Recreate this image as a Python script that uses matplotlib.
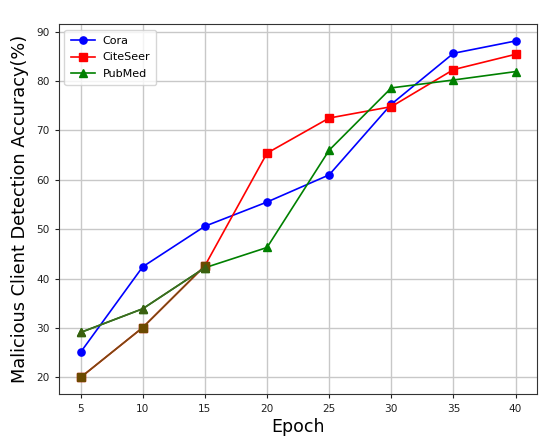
import matplotlib.pyplot as plt

epochs = [5, 10, 15, 20, 25, 30, 35, 40]
cora = [25.1, 42.4, 50.6, 55.5, 61.0, 75.3, 85.6, 88.1]
citeseer = [20.0, 30.1, 42.6, 65.4, 72.5, 74.8, 82.3, 85.4]
pubmed = [29.1, 33.9, 42.2, 46.3, 66.0, 78.6, 80.2, 81.9]

# the early part of CiteSeer / PubMed looks tinted in the source image
n_tinted = 3


def main():
    fig, ax = plt.subplots(figsize=(5.5, 4.47), dpi=100)

    style = dict(markersize=5.2, linewidth=1.2)
    ax.plot(epochs, cora, color="blue", marker="o", label="Cora", **style)
    ax.plot(epochs, citeseer, color="red", marker="s", label="CiteSeer", **style)
    ax.plot(epochs, pubmed, color="green", marker="^", label="PubMed", **style)

    ax.plot(epochs[:n_tinted], citeseer[:n_tinted], color="#7a4c12",
            marker="s", markerfacecolor="#6b4a00", markeredgecolor="#6b4a00",
            **style)
    ax.plot(epochs[:n_tinted], pubmed[:n_tinted], color="#3f6a20",
            marker="^", markerfacecolor="#3b6010", markeredgecolor="#3b6010",
            **style)

    ax.set_xticks(epochs)
    ax.grid(True, color="#c8c8c8", linewidth=1.0)
    for spine in ax.spines.values():
        spine.set_color("#333333")
    ax.set_xlabel("Epoch", fontsize=12.5, labelpad=3)
    ax.set_ylabel("Malicious Client Detection Accuracy(%)", fontsize=12.8,
                  labelpad=5)
    ax.tick_params(labelsize=7.6, length=3.2, colors="#222222")
    ax.legend(loc="upper left", fontsize=8, handlelength=2.2,
              handletextpad=0.7, labelspacing=0.6, borderpad=0.55)

    fig.subplots_adjust(left=0.107, right=0.977, top=0.946, bottom=0.118)
    fig.savefig("out.png")


if __name__ == "__main__":
    main()
